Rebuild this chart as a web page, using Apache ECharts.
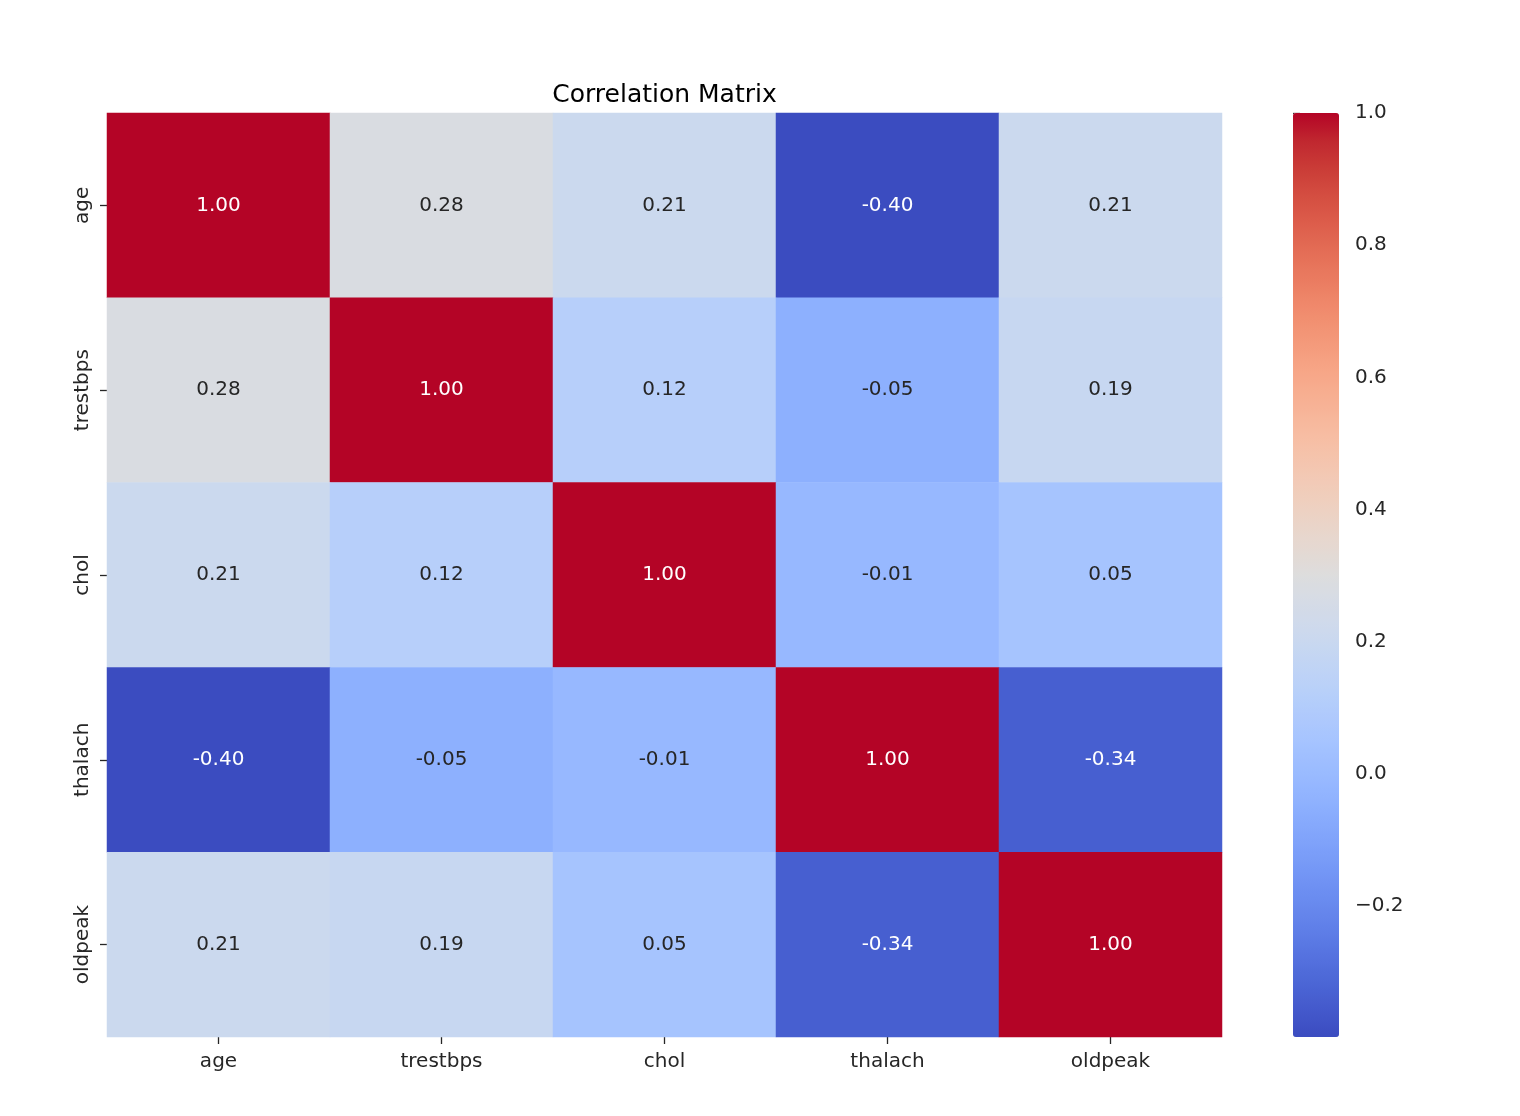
<!DOCTYPE html>
<html>
<head>
<meta charset="utf-8">
<script src="https://cdn.jsdelivr.net/npm/echarts@6/dist/echarts.min.js"></script>
<style>
html,body{margin:0;padding:0;background:#fff;}
#chart{width:1520px;height:1116px;}
</style>
</head>
<body>
<div id="chart"></div>
<script>
// ---- data ----
const variables = ['age', 'trestbps', 'chol', 'thalach', 'oldpeak'];
const rowAge      = [1.00, 0.28, 0.21, -0.40, 0.21];
const rowTrestbps = [0.28, 1.00, 0.12, -0.05, 0.19];
const rowChol     = [0.21, 0.12, 1.00, -0.01, 0.05];
const rowThalach  = [-0.40, -0.05, -0.01, 1.00, -0.34];
const rowOldpeak  = [0.21, 0.19, 0.05, -0.34, 1.00];
const colorbarTicks = [-0.2, 0.0, 0.2, 0.4, 0.6, 0.8, 1.0];
const colorMin = -0.398;
const colorMax = 1.0;

const matrix = [rowAge, rowTrestbps, rowChol, rowThalach, rowOldpeak];

// matplotlib "coolwarm" colormap sampled at 33 evenly spaced stops
const cwR = [0.2298057,0.26623388,0.30386891,0.342804478,0.38301334,0.424369608,0.46666708,0.509635204,0.552953156,0.596262162,0.639176211,0.681291281,0.722193294,0.761464949,0.798691636,0.833466556,0.865395197,0.897787179,0.924127593,0.944468518,0.958852946,0.96732803,0.969954137,0.966811177,0.958003065,0.943660866,0.923944917,0.89904617,0.869186849,0.834620542,0.795631745,0.752534934,0.705673158];
const cwG = [0.298717966,0.353094838,0.406535296,0.458757618,0.50941904,0.558148092,0.604562568,0.648280772,0.688929332,0.726149107,0.759599947,0.788964712,0.813952739,0.834302879,0.849786142,0.860207984,0.86541021,0.848937047,0.827384882,0.800927443,0.769767752,0.734132809,0.694266682,0.650421156,0.602842431,0.551750968,0.49730856,0.439559467,0.378313092,0.312874446,0.24128379,0.157246067,0.01555616];
const cwB = [0.753683153,0.801466763,0.84495867,0.883725899,0.917387822,0.945619588,0.968154911,0.98478814,0.995375608,0.999836203,0.998151185,0.990363227,0.976574709,0.956945269,0.931688648,0.901068838,0.865395561,0.820880546,0.774508472,0.726736146,0.678007945,0.628751763,0.579375448,0.530263762,0.481775914,0.434243684,0.387970225,0.343229596,0.300267182,0.259301199,0.220525627,0.184115123,0.150232812];

const toHex = v => Math.round(v * 255).toString(16).padStart(2, '0');
const stops = cwR.map((r, i) => '#' + toHex(r) + toHex(cwG[i]) + toHex(cwB[i]));

function colorAt(v) {
  let t = (v - colorMin) / (colorMax - colorMin);
  t = Math.max(0, Math.min(1, t));
  const p = t * (cwR.length - 1);
  const i = Math.min(Math.floor(p), cwR.length - 2);
  const f = p - i;
  return [cwR, cwG, cwB].map(a => a[i] + (a[i + 1] - a[i]) * f);
}
function luminance(rgb) {
  const lin = rgb.map(c => c <= 0.03928 ? c / 12.92 : Math.pow((c + 0.055) / 1.055, 2.4));
  return 0.2126 * lin[0] + 0.7152 * lin[1] + 0.0722 * lin[2];
}

const heatData = [];
matrix.forEach((row, yi) => {
  row.forEach((v, xi) => {
    const lum = luminance(colorAt(v));
    heatData.push({
      value: [xi, yi, v],
      label: { color: lum > 0.408 ? '#262626' : '#ffffff' }
    });
  });
});

const FONT = 'DejaVu Sans';
const gridL = 107, gridT = 113, gridW = 1115, gridH = 924;
const cbL = 1293, cbW = 46;

const chart = echarts.init(document.getElementById('chart'), null, { renderer: 'canvas' });
chart.setOption({
  backgroundColor: '#ffffff',
  animation: false,
  textStyle: { fontFamily: FONT },
  title: {
    text: 'Correlation Matrix',
    left: gridL + gridW / 2 - 5,
    textAlign: 'center',
    top: 78,
    textStyle: { fontFamily: FONT, fontSize: 25, fontWeight: 'normal', color: '#000000' }
  },
  grid: [
    { left: gridL, top: gridT, width: gridW, height: gridH, containLabel: false },
    { left: cbL, top: gridT, width: cbW, height: gridH, containLabel: false }
  ],
  xAxis: [
    {
      type: 'category', gridIndex: 0, data: variables,
      axisLine: { show: false },
      axisTick: { show: true, alignWithLabel: true, length: 7, lineStyle: { color: '#262626', width: 1.3 } },
      axisLabel: { fontFamily: FONT, fontSize: 20, color: '#262626', margin: 15 },
      splitLine: { show: false }, splitArea: { show: false }
    },
    {
      type: 'value', gridIndex: 1, show: false, min: 0, max: 1
    }
  ],
  yAxis: [
    {
      type: 'category', gridIndex: 0, data: variables, inverse: true,
      axisLine: { show: false },
      axisTick: { show: true, alignWithLabel: true, length: 7, lineStyle: { color: '#262626', width: 1.3 } },
      axisLabel: { fontFamily: FONT, fontSize: 20, color: '#262626', rotate: 90, margin: 14 },
      splitLine: { show: false }, splitArea: { show: false }
    },
    {
      type: 'value', gridIndex: 1, position: 'right',
      min: colorMin, max: colorMax,
      axisLine: { show: false },
      axisTick: { show: true, length: 7, customValues: colorbarTicks, lineStyle: { color: '#262626', width: 1.3 } },
      axisLabel: {
        fontFamily: FONT, fontSize: 20, color: '#262626', margin: 16,
        padding: [4, 0, 0, 0],
        customValues: colorbarTicks,
        formatter: v => v.toFixed(1).replace('-', '\u2212')
      },
      splitLine: { show: false }
    }
  ],
  visualMap: {
    type: 'continuous',
    seriesIndex: 0,
    min: colorMin, max: colorMax,
    orient: 'vertical',
    left: cbL, top: gridT,
    itemWidth: cbW, itemHeight: gridH,
    padding: 0,
    calculable: false,
    hoverLink: false,
    realtime: false,
    text: null,
    showLabel: false,
    inRange: { color: stops }
  },
  series: [
    {
      type: 'heatmap',
      xAxisIndex: 0, yAxisIndex: 0,
      data: heatData,
      itemStyle: { borderWidth: 0 },
      label: {
        show: true,
        fontFamily: FONT,
        fontSize: 20,
        formatter: p => p.value[2].toFixed(2)
      },
      emphasis: { disabled: true }
    }
  ]
});
</script>
</body>
</html>
